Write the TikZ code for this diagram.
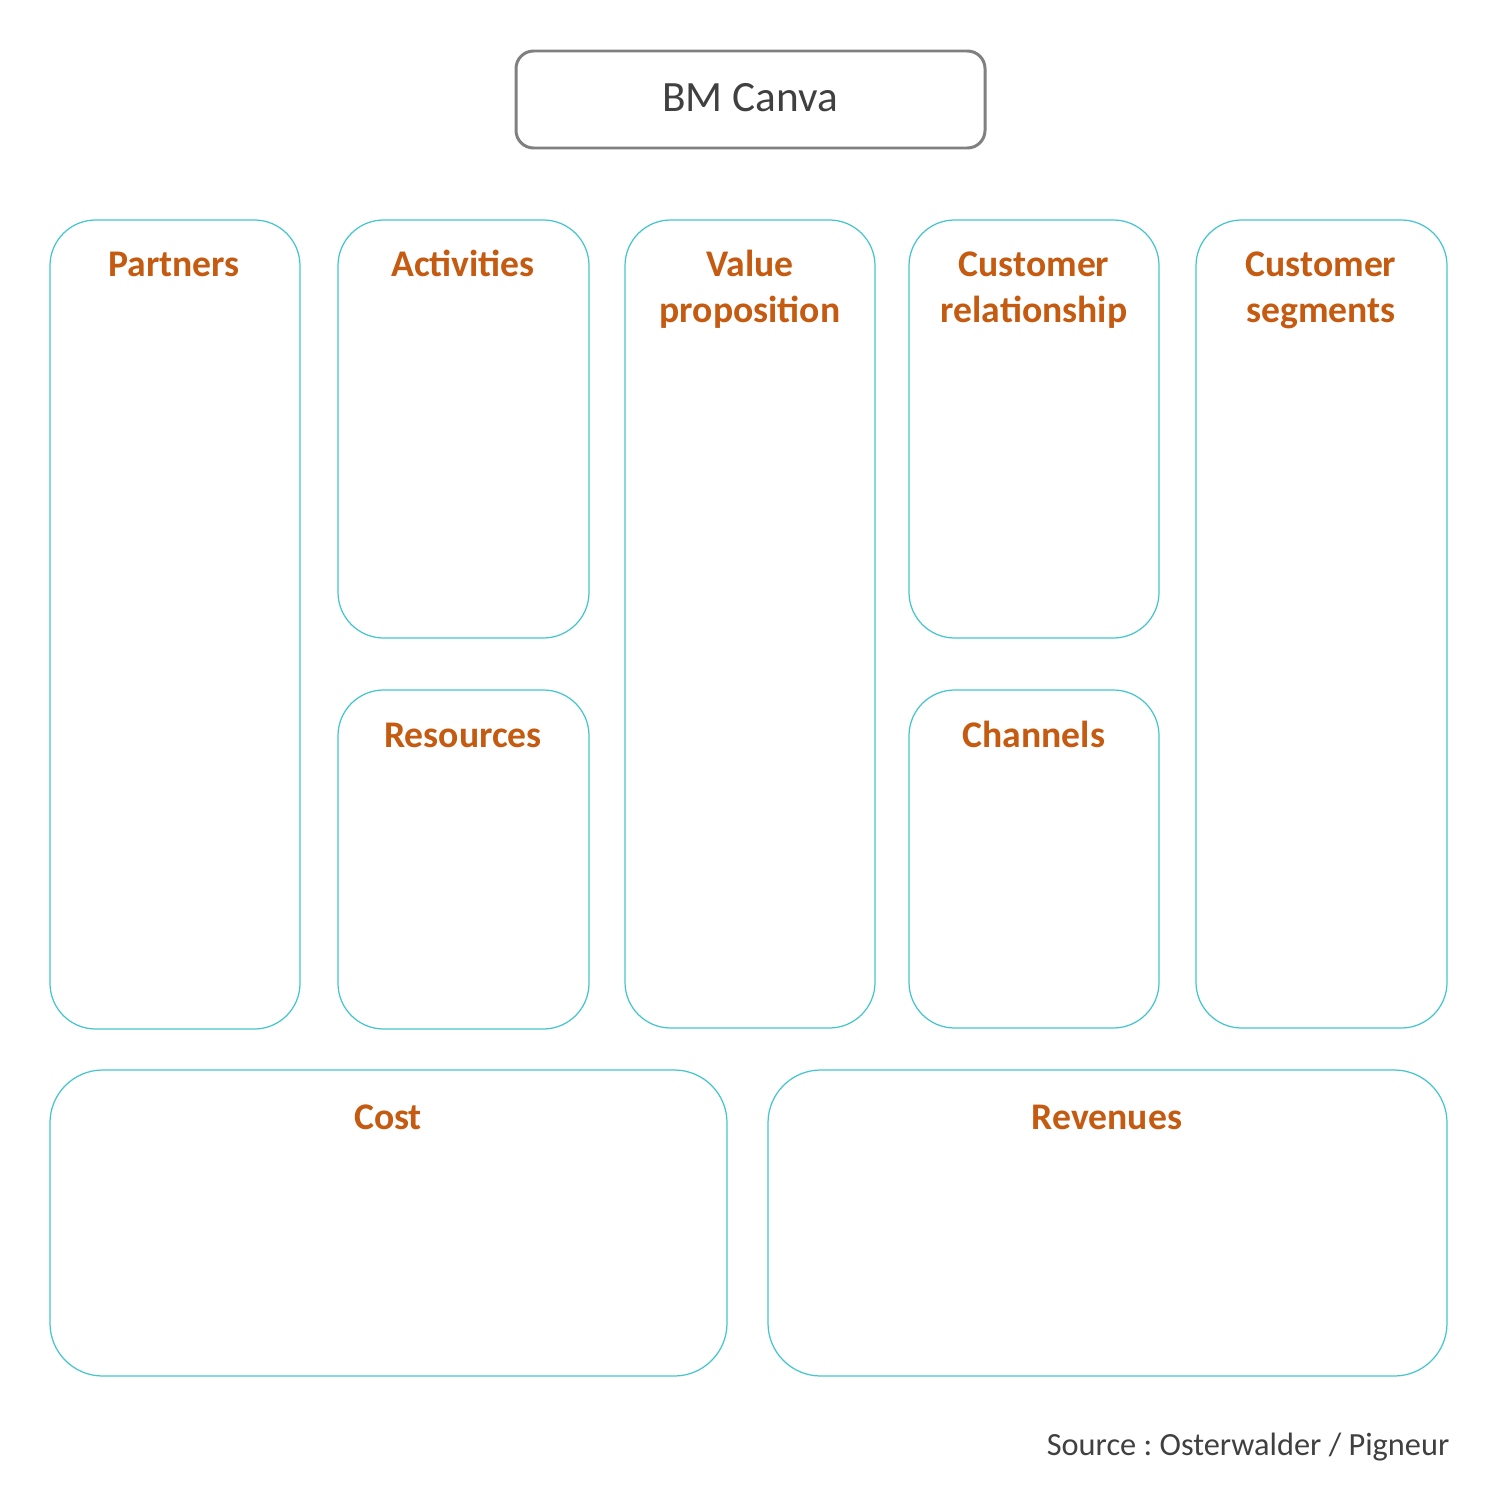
\documentclass[tikz,border=0pt]{standalone}
\usepackage{fontspec}
\setmainfont{Carlito}
\frenchspacing
\definecolor{cellline}{HTML}{45C6CF}
\definecolor{lbl}{HTML}{C55A11}
\definecolor{titleline}{HTML}{808080}
\definecolor{titletext}{HTML}{404040}
\begin{document}
\begin{tikzpicture}[x=0.01cm,y=-0.01cm,
  cell/.style={draw=cellline,line width=0.35pt,rounded corners=13pt},
  lab/.style={text=lbl,font=\bfseries\fontsize{10.7}{12.8}\selectfont,anchor=base,inner sep=0pt,align=center},
  ]
\useasboundingbox[fill=white] (0,0) rectangle (1500,1500);
\draw[draw=titleline,line width=0.85pt,rounded corners=5pt] (516,51) rectangle (985,148);
\node[text=titletext,font=\fontsize{12.3}{15}\selectfont,anchor=base,inner sep=0pt] (title) at (750,112) {BM Canva};
\draw[cell] (50,220) rectangle (300,1029);
\draw[cell] (338,220) rectangle (589,638);
\draw[cell] (338,690) rectangle (589,1029);
\draw[cell] (625,220) rectangle (875,1028);
\draw[cell] (909,220) rectangle (1159,638);
\draw[cell] (909,690) rectangle (1159,1028);
\draw[cell] (1196,220) rectangle (1447,1028);
\draw[cell,rounded corners=15pt] (50,1070) rectangle (727,1376);
\draw[cell,rounded corners=15pt] (768,1070) rectangle (1447,1376);
\node[lab] (partners) at (174,277) {Partners};
\node[lab] (activities) at (463,276) {Activities};
\node[lab] (resources) at (463,747) {Resources};
\node[lab] (value) at (750,322) {Value\\proposition};
\node[lab] (custrel) at (1034,322) {Customer\\relationship};
\node[lab] (channels) at (1034,747) {Channels};
\node[lab] (custseg) at (1321,322) {Customer\\segments};
\node[lab] (cost) at (388,1129) {Cost};
\node[lab] (revenues) at (1107,1129) {Revenues};
\node[text=titletext,font=\fontsize{9.2}{11}\selectfont,anchor=base east,inner sep=0pt] (source) at (1450,1455) {Source : Osterwalder / Pigneur};
\end{tikzpicture}
\end{document}
